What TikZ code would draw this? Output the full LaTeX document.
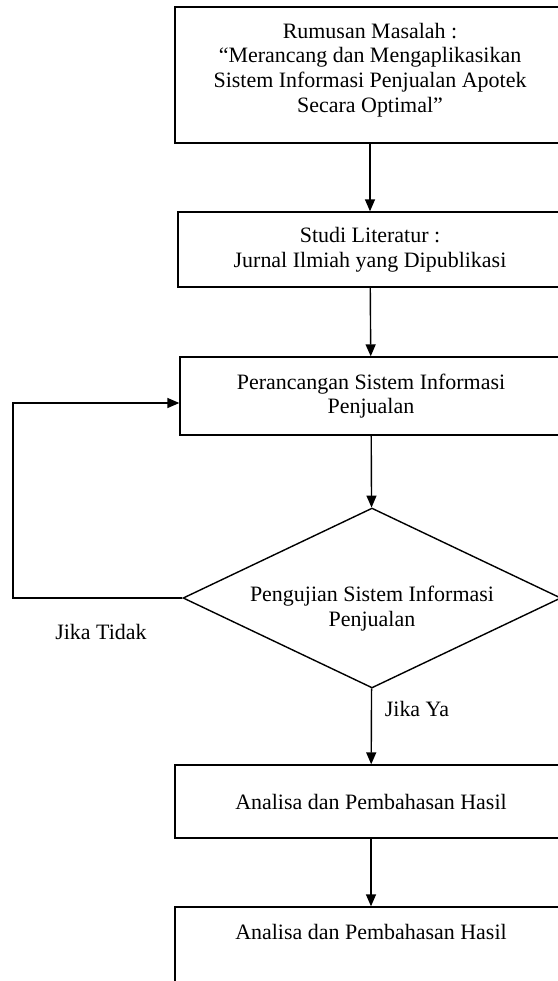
\documentclass[tikz,border=0pt]{standalone}
\usepackage{fontspec}
\setmainfont{Liberation Serif}
\usetikzlibrary{arrows.meta,positioning,shapes.geometric}
\tikzset{
  kotak/.style={draw, line width=0.8pt, align=center, font=\fontsize{12.5}{14}\selectfont,
                inner sep=2pt},
  cabang/.style={draw, diamond, aspect=2.1, line width=0.8pt, align=center, inner sep=0pt,
                 font=\fontsize{12.5}{14}\selectfont, minimum width=7.56cm, minimum height=3.6cm},
  panah/.style={-{Triangle[length=2.4mm,width=2mm]}, line width=0.8pt},
  ket/.style={font=\fontsize{12.5}{14}\selectfont},
}
\begin{document}
\begin{tikzpicture}[x=0.02cm, y=-0.02cm]
  \useasboundingbox (0,0) rectangle (558,981);
  \clip (0,0) rectangle (558,981);
  % kotak proses
  \node[kotak, minimum width=7.8cm, minimum height=2.72cm, text depth=0.3cm] (rumus) at (370,75)
    {Rumusan Masalah :\\ ``Merancang dan Mengaplikasikan\\ Sistem Informasi Penjualan Apotek\\ Secara Optimal''};
  \node[kotak, minimum width=7.68cm, minimum height=1.5cm] (studi) at (370,249.5)
    {Studi Literatur :\\ Jurnal Ilmiah yang Dipublikasi};
  \node[kotak, minimum width=7.64cm, minimum height=1.56cm] (rancang) at (371,396)
    {Perancangan Sistem Informasi\\ Penjualan};
  \node[cabang] (uji) at (372,598)
    {\raisebox{-0.22cm}[\height][\depth]{\begin{tabular}{@{}c@{}}Pengujian Sistem Informasi\\ Penjualan\end{tabular}}};
  \node[kotak, minimum width=7.84cm, minimum height=1.46cm] (analisa) at (371,801.5)
    {Analisa dan Pembahasan Hasil};
  \node[kotak, minimum width=7.84cm, minimum height=1.6cm, text height=0.3cm, text depth=0.6cm] (hasil) at (371,947)
    {Analisa dan Pembahasan Hasil};
  % keterangan
  \node[ket] (ya) at (417,709) {Jika Ya};
  \node[ket] (tidak) at (101,632) {Jika Tidak};
  % alur
  \draw[panah] (rumus) -- (studi);
  \draw[panah] (studi) -- (rancang);
  \draw[panah] (rancang) -- (uji);
  \draw[panah] (uji) -- (analisa);
  \draw[panah] (analisa) -- (hasil);
  \coordinate (balik) at (13,598);
  \draw[panah] (uji.west) -- (balik) |- ([yshift=-0.14cm]rancang.west);
\end{tikzpicture}
\end{document}
